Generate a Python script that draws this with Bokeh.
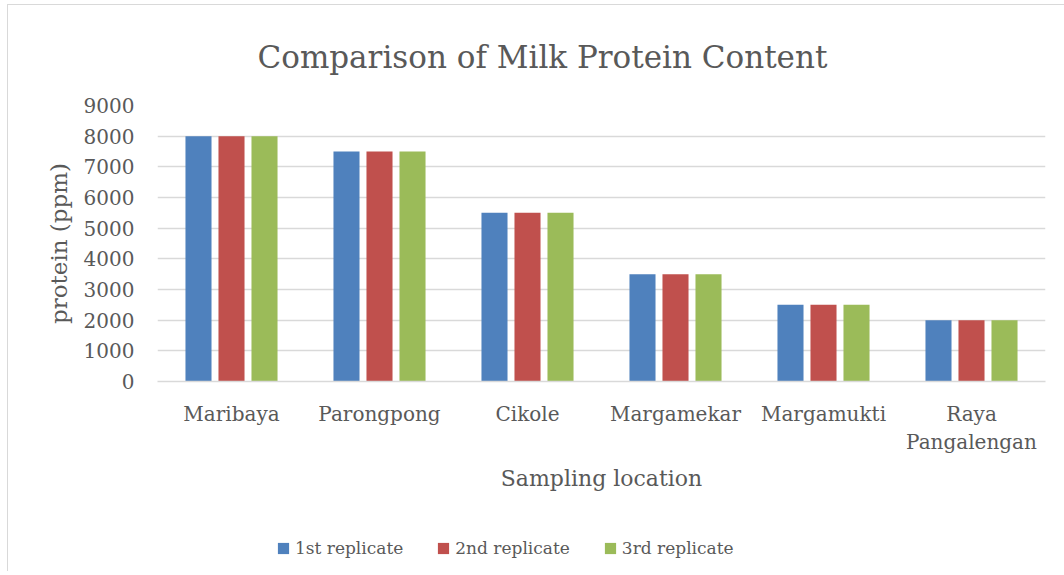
from bokeh.plotting import figure
from bokeh.layouts import column
from bokeh.models import FactorRange, Range1d, FixedTicker, Legend, LegendItem, Title, ColumnDataSource
from bokeh.transform import dodge
from bokeh.embed import file_html
from bokeh.resources import INLINE

locations = ["Maribaya", "Parongpong", "Cikole", "Margamekar", "Margamukti", "Raya\nPangalengan"]
rep1 = [8000, 7500, 5500, 3500, 2500, 2000]
rep2 = [8000, 7500, 5500, 3500, 2500, 2000]
rep3 = [8000, 7500, 5500, 3500, 2500, 2000]
series_names = ["1st replicate", "2nd replicate", "3rd replicate"]
colors = ["#4F81BD", "#C0504D", "#9BBB59"]
y_ticks = [0, 1000, 2000, 3000, 4000, 5000, 6000, 7000, 8000, 9000]

FONT = "DejaVu Serif"
TXT = "#595959"
GRID = "#D9D9D9"

src = ColumnDataSource(dict(loc=locations, r1=rep1, r2=rep2, r3=rep3))

p = figure(frame_width=888, frame_height=276,
           x_range=FactorRange(*locations), y_range=Range1d(0, 9000),
           output_backend="svg", toolbar_location=None,
           min_border_left=149, min_border_right=19, min_border_top=97, min_border_bottom=150)
p.title = None
p.add_layout(Title(text="Comparison of Milk Protein Content", align="left", offset=100,
                   text_font=FONT, text_font_size="31px", text_font_style="normal",
                   text_color=TXT, standoff=62), "above")

w = 0.176
step = 0.223
for i, (col, c) in enumerate(zip(["r1", "r2", "r3"], colors)):
    p.vbar(x=dodge("loc", (i - 1) * step, range=p.x_range), top=col, width=w,
           source=src, fill_color=c, line_color=None)

p.xgrid.grid_line_color = None
p.ygrid.grid_line_color = GRID
p.ygrid.grid_line_width = 1.5
p.outline_line_color = None

p.yaxis.ticker = FixedTicker(ticks=y_ticks)
p.yaxis.axis_line_color = None
p.yaxis.major_tick_line_color = None
p.yaxis.minor_tick_line_color = None
p.yaxis.major_label_text_font = FONT
p.yaxis.major_label_text_font_size = "20px"
p.yaxis.major_label_text_color = TXT
p.yaxis.major_label_standoff = 17
p.yaxis.axis_label = "protein (ppm)"
p.yaxis.axis_label_text_font = FONT
p.yaxis.axis_label_text_font_size = "23px"
p.yaxis.axis_label_text_font_style = "normal"
p.yaxis.axis_label_text_color = TXT
p.yaxis.axis_label_standoff = 9

p.xaxis.axis_line_color = GRID
p.xaxis.axis_line_width = 1.5
p.xaxis.major_tick_line_color = None
p.xaxis.minor_tick_line_color = None
p.xaxis.major_label_text_font = FONT
p.xaxis.major_label_text_font_size = "20px"
p.xaxis.major_label_text_color = TXT
p.xaxis.major_label_standoff = 14
p.xaxis.axis_label = "Sampling location"
p.xaxis.axis_label_text_font = FONT
p.xaxis.axis_label_text_font_size = "22px"
p.xaxis.axis_label_text_font_style = "normal"
p.xaxis.axis_label_text_color = TXT
p.xaxis.axis_label_standoff = 9

# legend strip below the chart (same series, hidden bars only feed the legend swatches)
lf = figure(width=1056, height=40, x_range=FactorRange(*locations), y_range=Range1d(-2e9, -1e9),
            x_axis_type=None, y_axis_type=None, output_backend="svg", toolbar_location=None,
            min_border=0)
lf.title = None
lf.outline_line_color = None
lf.xgrid.grid_line_color = None
lf.ygrid.grid_line_color = None
legend_renderers = []
for i, (col, c) in enumerate(zip(["r1", "r2", "r3"], colors)):
    r = lf.vbar(x=dodge("loc", (i - 1) * step, range=lf.x_range), top=col, width=w,
                source=src, fill_color=c, line_color=None)
    r.visible = False
    legend_renderers.append(r)

legend = Legend(items=[LegendItem(label=n, renderers=[r]) for n, r in zip(series_names, legend_renderers)],
                orientation="horizontal", location=(119, 13), click_policy="none",
                label_text_font=FONT, label_text_font_size="17px", label_text_color=TXT,
                glyph_width=14, glyph_height=14, spacing=33, label_standoff=5,
                border_line_color=None, background_fill_alpha=0, margin=0, padding=2)
lf.add_layout(legend, "center")

layout = column(p, lf, spacing=0, margin=(4, 0, 0, 7),
                styles={"border-top": "1px solid #D9D9D9", "border-left": "1px solid #D9D9D9",
                        "box-sizing": "border-box"})

open("out.html", "w").write(file_html(layout, INLINE))
